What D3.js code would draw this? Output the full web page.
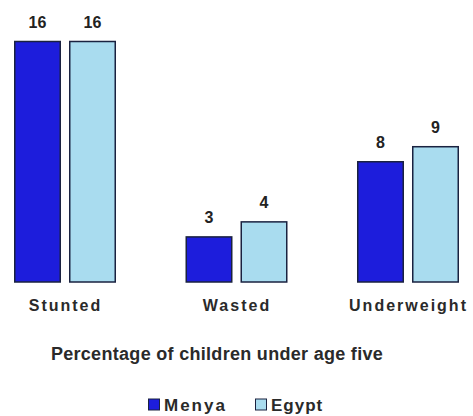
<!DOCTYPE html>
<html>
<head>
<meta charset="utf-8">
<script src="https://cdn.jsdelivr.net/npm/d3@7"></script>
<style>
  html, body { margin: 0; padding: 0; background: #fff; }
  svg { display: block; font-family: Arial, "Liberation Sans", sans-serif; }
</style>
</head>
<body>
<svg id="chart" width="473" height="416"></svg>
<script>
const categories = ["Stunted", "Wasted", "Underweight"];
const seriesNames = ["Menya", "Egypt"];
const menya = [16, 3, 8];
const egypt = [16, 4, 9];
const colors = ["#1d1ddc", "#a9dcef"];
const title = "Percentage of children under age five";

const svg = d3.select("#chart");
const values = [menya, egypt];

const x0 = d3.scalePoint().domain(categories).range([65, 408]);
const x1 = d3.scaleBand().domain(seriesNames).range([-51, 51]).paddingInner(0.1455);
const y = d3.scaleLinear().domain([0, 16]).range([282, 41.5]);

const g = svg.append("g");
categories.forEach((c, i) => {
  const grp = g.append("g").attr("transform", `translate(${x0(c)},0)`);
  seriesNames.forEach((s, j) => {
    const v = values[j][i];
    grp.append("rect")
      .attr("x", x1(s) + 0.75)
      .attr("y", y(v))
      .attr("width", x1.bandwidth() - 1.5)
      .attr("height", y(0) - y(v))
      .attr("fill", colors[j])
      .attr("stroke", "#1a2240")
      .attr("stroke-width", 1.5);
    grp.append("text")
      .attr("x", x1(s) + x1.bandwidth() / 2)
      .attr("y", y(v) - 14)
      .attr("text-anchor", "middle")
      .attr("font-size", "16px")
      .attr("font-weight", "bold")
      .attr("fill", "#222")
      .text(v);
  });
});

// category axis labels
const xAxis = d3.axisBottom(x0).tickSize(0).tickPadding(0);
const ax = svg.append("g").attr("transform", "translate(0,300)").call(xAxis);
ax.select(".domain").remove();
ax.selectAll("text")
  .attr("font-size", "16px")
  .attr("font-weight", "bold")
  .attr("fill", "#2a2a2a")
  .attr("font-family", "Arial, 'Liberation Sans', sans-serif")
  .style("letter-spacing", "2px");

svg.append("text")
  .attr("x", 217)
  .attr("y", 360)
  .attr("text-anchor", "middle")
  .attr("font-size", "18px")
  .attr("font-weight", "bold")
  .attr("fill", "#2a2a2a")
  .style("letter-spacing", "0.3px")
  .text(title);

// legend
const legendX = [148, 255];
const leg = svg.append("g");
seriesNames.forEach((s, j) => {
  leg.append("rect")
    .attr("x", legendX[j] + 0.5)
    .attr("y", 399)
    .attr("width", 11)
    .attr("height", 11)
    .attr("fill", colors[j])
    .attr("stroke", "#1a2240")
    .attr("stroke-width", 1);
  leg.append("text")
    .attr("x", legendX[j] + 16)
    .attr("y", 411)
    .attr("font-size", "17px")
    .attr("font-weight", "bold")
    .attr("fill", "#2a2a2a")
    .style("letter-spacing", j === 0 ? "2px" : "1px")
    .text(s);
});
</script>
</body>
</html>
